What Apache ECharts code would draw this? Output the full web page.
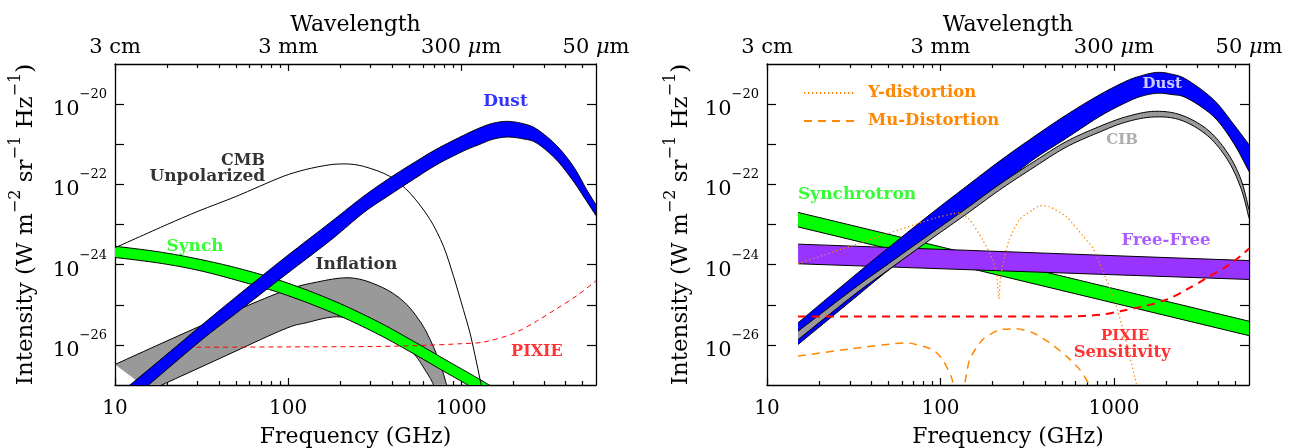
<!DOCTYPE html>
<html><head><meta charset="utf-8">
<script src="https://cdn.jsdelivr.net/npm/echarts@6/dist/echarts.min.js"></script>
<style>html,body{margin:0;padding:0;background:#fff}#c{width:1301px;height:448px}</style>
</head><body><div id="c"></div>
<script>
// ---------------- tick values / labels ----------------
const majorFreqTicks = [10, 100, 1000];
const minorFreqTicks = [20,30,40,50,60,70,80,90,200,300,400,500,600,700,800,900,2000,3000,4000,5000];
const wavelengthTickFreqs = [10, 100, 1000, 6000];
const wavelengthTickLabels = ['3 cm', '3 mm', '300 μm', '50 μm'];
const decadeTicks = [1e-26,1e-25,1e-24,1e-23,1e-22,1e-21,1e-20];
const intensityLabelTicks = [1e-26,1e-24,1e-22,1e-20];

// ---------------- left panel (GHz, W m^-2 sr^-1 Hz^-1) ----------------
const cmbUnpolarized = [[10,2.63e-24],[20,1.0e-23],[30.2,2.14e-23],[50.1,5.01e-23],[93.5,1.58e-22],[126,2.34e-22],[175,3.09e-22],[213,3.24e-22],[272,2.82e-22],[387,1.58e-22],[506,6.03e-23],[661,1.32e-23],[789,2.88e-24],[902,5.13e-25],[1028,7.59e-26],[1122,2.0e-26],[1227,3.55e-27],[1303,1.0e-27],[1349,5.0e-28]];
const pixieLeft = [[29.5,8.71e-27],[100,8.91e-27],[316,9.12e-27],[631,9.77e-27],[1000,1.07e-26],[1340,1.17e-26],[1995,1.91e-26],[2723,3.89e-26],[3548,7.94e-26],[4634,1.66e-25],[6000,3.98e-25]];
const dustLeftUpper = [[10,4.9e-28],[12.2,1.0e-27],[20,5.89e-27],[31.6,3.09e-26],[50.1,1.58e-25],[93.5,1.38e-24],[175,1.12e-23],[272,5.01e-23],[387,1.45e-22],[528,3.39e-22],[721,7.59e-22],[1028,1.66e-21],[1282,2.57e-21],[1514,3.31e-21],[1828,3.72e-21],[2239,3.31e-21],[2723,2.40e-21],[3548,9.33e-22],[4436,2.82e-22],[5297,7.41e-23],[6000,3.09e-23]];
const dustLeftLower = [[12.6,4.8e-28],[15.6,1.0e-27],[31.6,1.32e-26],[50.1,6.17e-26],[93.5,5.01e-25],[175,3.98e-24],[272,1.95e-23],[387,5.50e-23],[528,1.32e-22],[721,3.09e-22],[1028,6.76e-22],[1282,1.0e-21],[1514,1.32e-21],[1828,1.51e-21],[2239,1.38e-21],[2723,1.07e-21],[3548,4.07e-22],[4436,1.20e-22],[5297,3.80e-23],[6000,1.66e-23]];
const synchLeftUpper = [[10,2.88e-24],[17.8,2.09e-24],[30.2,1.38e-24],[52.5,7.94e-25],[93.5,3.80e-25],[178,1.32e-25],[316,4.17e-26],[501,1.41e-26],[794,4.47e-27],[1122,1.91e-27],[1514,8.91e-28],[1778,5.62e-28]];
const synchLeftLower = [[10,1.51e-24],[17.8,1.10e-24],[30.2,7.24e-25],[52.5,3.89e-25],[93.5,1.86e-25],[178,6.46e-26],[316,2.04e-26],[501,6.92e-27],[794,2.19e-27],[1122,9.33e-28],[1413,5.01e-28]];
const inflationUpper = [[10,3.24e-27],[20,1.26e-26],[39.8,4.68e-26],[91.2,2.09e-25],[141,3.55e-25],[228,4.68e-25],[339,2.88e-25],[462,1.23e-25],[577,3.89e-26],[661,1.35e-26],[753,3.55e-27],[824,1.0e-27],[871,5.01e-28]];
const inflationLower = [[15.8,7.41e-28],[18.6,1.0e-27],[40.7,4.68e-27],[93.5,2.40e-26],[127,3.55e-26],[191,5.01e-26],[272,3.55e-26],[388,1.66e-26],[525,6.31e-27],[625,2.19e-27],[692,1.0e-27],[724,5.01e-28]];

// ---------------- right panel ----------------
const synchRightUpper = [[15.1,2.0e-23],[6000,3.89e-26]];
const synchRightLower = [[15.1,8.71e-24],[6000,1.70e-26]];
const freeFreeUpper = [[15.1,3.24e-24],[6000,1.26e-24]];
const freeFreeLower = [[15.1,1.05e-24],[6000,4.27e-25]];
const dustRightUpper = [[15.1,3.55e-26],[31.6,5.13e-25],[50.1,2.63e-24],[91.2,2.09e-23],[141,8.91e-23],[219,3.80e-22],[341,1.48e-21],[531,5.37e-21],[832,1.74e-20],[1186,3.80e-20],[1445,5.13e-20],[1766,6.17e-20],[2138,5.62e-20],[2630,4.07e-20],[3750,1.29e-20],[4887,3.16e-21],[6000,9.77e-22]];
const dustRightLower = [[15.1,1.02e-26],[31.6,1.41e-25],[50.1,7.24e-25],[91.2,5.01e-24],[141,2.0e-23],[219,8.91e-23],[341,4.07e-22],[531,1.41e-21],[832,5.01e-21],[1186,1.12e-20],[1445,1.58e-20],[1766,1.86e-20],[2138,1.74e-20],[2630,1.41e-20],[3750,4.90e-21],[4887,1.07e-21],[6000,2.09e-22]];
const cibUpper = [[15.1,2.19e-26],[31.6,2.51e-25],[50.1,1.05e-24],[90.4,6.46e-24],[141,2.51e-23],[219,1.0e-22],[341,3.55e-22],[531,1.17e-21],[832,2.82e-21],[1186,4.90e-21],[1706,6.61e-21],[2432,5.37e-21],[3467,2.29e-21],[4519,6.03e-22],[5395,1.32e-22],[6000,2.34e-23]];
const cibLower = [[15.1,1.35e-26],[31.6,1.74e-25],[50.1,7.41e-25],[90.4,4.68e-24],[141,1.82e-23],[219,7.24e-23],[341,2.57e-22],[531,8.51e-22],[832,2.04e-21],[1186,3.63e-21],[1706,4.79e-21],[2432,3.98e-21],[3467,1.62e-21],[4519,4.07e-22],[5395,7.94e-23],[6000,1.45e-23]];
const pixieSensitivity = [[15.1,5.13e-26],[100,5.13e-26],[531,5.13e-26],[832,5.62e-26],[1084,6.92e-26],[1479,9.12e-26],[2018,1.35e-25],[2630,2.40e-25],[3436,4.68e-25],[4477,9.12e-25],[5346,1.62e-24],[6000,2.51e-24]];
const yDistortion = [[15.1,1.05e-24],[30.2,2.88e-24],[92.9,1.45e-23],[118,1.86e-23],[129,1.95e-23],[147,1.32e-23],[175,4.17e-24],[200,1.32e-24],[211,5.01e-25],[217,1.41e-25],[222,5.01e-25],[234,1.58e-24],[249,4.17e-24],[285,1.32e-23],[341,2.34e-23],[372,2.95e-23],[426,2.75e-23],[531,1.58e-23],[664,5.13e-24],[759,2.51e-24],[871,6.31e-25],[1000,1.41e-25],[1148,1.78e-26],[1318,1.58e-27],[1380,6.31e-28]];
const muDistortion = [[15.1,5.25e-27],[30.2,7.94e-27],[63.7,1.12e-26],[90.4,7.59e-27],[103,4.27e-27],[115,1.66e-27],[126,5.01e-28],[132,5.01e-28],[147,4.27e-27],[175,1.35e-26],[219,2.40e-26],[274,2.51e-26],[341,2.0e-26],[426,1.12e-26],[531,5.25e-27],[634,2.45e-27],[724,1.0e-27],[794,5.01e-28]];

// ---------------- annotations ----------------
const annotLeft = [
  {text:'CMB', freq:73.6, intensity:3.9e-22, color:'#000000', align:'right', size:16},
  {text:'Unpolarized', freq:73.6, intensity:1.58e-22, color:'#000000', align:'right', size:17},
  {text:'Synch', freq:29, intensity:2.8e-24, color:'#00ff00', align:'center', size:17},
  {text:'Inflation', freq:248, intensity:1.0e-24, color:'#000000', align:'center', size:17},
  {text:'Dust', freq:1800, intensity:1.15e-20, color:'#0000ff', align:'center', size:17},
  {text:'PIXIE', freq:2735, intensity:6.8e-27, color:'#ff0000', align:'center', size:16}
];
const annotRight = [
  {text:'Synchrotron', freq:15.1, intensity:5.5e-23, color:'#00ff00', align:'left', size:17},
  {text:'Free-Free', freq:1995, intensity:4.0e-24, color:'#9933ff', align:'center', size:16.5},
  {text:'Dust', freq:1897, intensity:3.2e-20, color:'#ffffff', align:'center', size:15},
  {text:'CIB', freq:1114, intensity:1.3e-21, color:'#999999', align:'center', size:15},
  {text:'PIXIE', freq:1159, intensity:1.7e-26, color:'#ff0000', align:'center', size:15},
  {text:'Sensitivity', freq:1114, intensity:6.5e-27, color:'#ff0000', align:'center', size:16.5}
];

// ---------------- chart ----------------
const FONT = "'DejaVu Serif', serif";
const grids = [
  {left:115, top:64, width:481, height:321, outerBoundsMode:'none', containLabel:false},
  {left:767, top:64, width:482, height:321, outerBoundsMode:'none', containLabel:false}
];
const yNameGaps = [77, 74];
const xAxes = [], yAxes = [];
grids.forEach((g, gi) => {
  const common = {type:'log', logBase:10, min:10, max:6000, gridIndex:gi, splitLine:{show:false}, axisPointer:{show:false}, nameMoveOverlap:false};
  xAxes.push(Object.assign({}, common, {
    position:'bottom',
    axisLine:{show:true, onZero:false, lineStyle:{color:'#000', width:1.3}},
    axisTick:{show:true, inside:true, length:7, customValues:majorFreqTicks, lineStyle:{color:'#000', width:1.2}},
    axisLabel:{show:true, customValues:majorFreqTicks, margin:12, color:'#000', fontFamily:FONT, fontSize:20, lineHeight:24,
      formatter:v => String(Math.round(v))},
    name:'Frequency (GHz)', nameLocation:'middle', nameGap:39,
    nameTextStyle:{fontFamily:FONT, fontSize:22, color:'#000', lineHeight:26}
  }));
  xAxes.push(Object.assign({}, common, {
    position:'bottom', axisLine:{show:false, onZero:false},
    axisTick:{show:true, inside:true, length:4, customValues:minorFreqTicks, lineStyle:{color:'#000', width:1.2}},
    axisLabel:{show:false}
  }));
  xAxes.push(Object.assign({}, common, {
    position:'top',
    axisLine:{show:true, onZero:false, lineStyle:{color:'#000', width:1.3}},
    axisTick:{show:true, inside:true, length:7, customValues:majorFreqTicks, lineStyle:{color:'#000', width:1.2}},
    axisLabel:{show:true, customValues:wavelengthTickFreqs, margin:4, color:'#000', fontFamily:FONT, fontSize:21, lineHeight:24,
      formatter:v => {
        const i = wavelengthTickFreqs.findIndex(f => Math.abs(Math.log10(f) - Math.log10(v)) < 0.01);
        return i < 0 ? '' : wavelengthTickLabels[i].replace('μ', '{i|μ}');
      },
      rich:{i:{fontFamily:FONT, fontSize:21, fontStyle:'italic', color:'#000', lineHeight:24}}},
    name:'Wavelength', nameLocation:'middle', nameGap:26,
    nameTextStyle:{fontFamily:FONT, fontSize:22, color:'#000', lineHeight:26}
  }));
  xAxes.push(Object.assign({}, common, {
    position:'top', axisLine:{show:false, onZero:false},
    axisTick:{show:true, inside:true, length:4, customValues:minorFreqTicks, lineStyle:{color:'#000', width:1.2}},
    axisLabel:{show:false}
  }));
  const ycommon = {type:'log', logBase:10, min:1e-27, max:1e-19, gridIndex:gi, splitLine:{show:false}, axisPointer:{show:false}, nameMoveOverlap:false};
  yAxes.push(Object.assign({}, ycommon, {
    position:'left',
    axisLine:{show:true, onZero:false, lineStyle:{color:'#000', width:1.3}},
    axisTick:{show:true, inside:true, length:9, customValues:decadeTicks, lineStyle:{color:'#000', width:1.2}},
    axisLabel:{show:true, customValues:intensityLabelTicks, margin:8, color:'#000',
      formatter:v => { const e = Math.round(Math.log10(v)); return '{b|10}{s|' + (e < 0 ? '\u2212' : '') + Math.abs(e) + '}'; },
      rich:{
        b:{fontFamily:FONT, fontSize:21, lineHeight:32, verticalAlign:'bottom', color:'#000'},
        s:{fontFamily:FONT, fontSize:13, lineHeight:14, verticalAlign:'top', color:'#000'}
      }},
    name:'{n|Intensity (W m}{s|\u22122}{n| sr}{s|\u22121}{n| Hz}{s|\u22121}{n|)}',
    nameLocation:'middle', nameGap:yNameGaps[gi],
    nameTextStyle:{fontFamily:FONT, fontSize:23, color:'#000',
      rich:{
        n:{fontFamily:FONT, fontSize:23, lineHeight:30, verticalAlign:'bottom', color:'#000'},
        s:{fontFamily:FONT, fontSize:16, lineHeight:16, verticalAlign:'top', color:'#000'}
      }}
  }));
  yAxes.push(Object.assign({}, ycommon, {
    position:'right',
    axisLine:{show:true, onZero:false, lineStyle:{color:'#000', width:1.3}},
    axisTick:{show:true, inside:true, length:9, customValues:decadeTicks, lineStyle:{color:'#000', width:1.2}},
    axisLabel:{show:false}
  }));
});

// smooth drawing of a polyline through the given pixel points (Catmull-Rom as cubic Bezier)
function smoothPts(pts, steps) {
  if (pts.length < 3) return pts;
  const out = [];
  for (let i = 0; i < pts.length - 1; i++) {
    const p0 = pts[Math.max(0, i - 1)], p1 = pts[i], p2 = pts[i + 1], p3 = pts[Math.min(pts.length - 1, i + 2)];
    const c1 = [p1[0] + (p2[0] - p0[0]) / 6, p1[1] + (p2[1] - p0[1]) / 6];
    const c2 = [p2[0] - (p3[0] - p1[0]) / 6, p2[1] - (p3[1] - p1[1]) / 6];
    for (let s = 0; s < steps; s++) {
      const t = s / steps, u = 1 - t;
      const a = u * u * u, b = 3 * u * u * t, c = 3 * u * t * t, d = t * t * t;
      out.push([a * p1[0] + b * c1[0] + c * c2[0] + d * p2[0], a * p1[1] + b * c1[1] + c * c2[1] + d * p2[1]]);
    }
  }
  out.push(pts[pts.length - 1]);
  return out;
}

function band(name, gi, upper, lower, fill, z) {
  return {
    type:'custom', name, xAxisIndex:4*gi, yAxisIndex:2*gi, z, clip:true, silent:true,
    data:[upper[0]],
    renderItem(params, api) {
      const up = smoothPts(upper.map(p => api.coord(p)), 10);
      const lo = smoothPts(lower.map(p => api.coord(p)), 10);
      return {type:'group', children:[
        {type:'polygon', shape:{points:up.concat(lo.slice().reverse())}, style:{fill:fill, stroke:'none'}},
        {type:'polyline', shape:{points:up}, style:{fill:'none', stroke:'#000', lineWidth:1}},
        {type:'polyline', shape:{points:lo}, style:{fill:'none', stroke:'#000', lineWidth:1}}
      ]};
    }
  };
}
function curve(name, gi, data, color, width, dash, z, smooth) {
  return {
    type:'line', name, xAxisIndex:4*gi, yAxisIndex:2*gi, z, data, symbol:'none', showSymbol:false,
    smooth:smooth, clip:true, silent:true,
    lineStyle:{color, width, type:dash}, itemStyle:{color}
  };
}
function labels(gi, list, z) {
  return {
    type:'scatter', xAxisIndex:4*gi, yAxisIndex:2*gi, z, symbolSize:0, silent:true,
    itemStyle:{color:'rgba(0,0,0,0)'},
    data:list.map(a => ({
      value:[a.freq, a.intensity],
      label:{show:true, formatter:a.text, position:[0,0], align:a.align, verticalAlign:'middle',
        color:a.color, fontFamily:FONT, fontWeight:'bold', fontSize:a.size}
    }))
  };
}

const series = [
  band('Inflation', 0, inflationUpper, inflationLower, '#999999', 1),
  band('Synch', 0, synchLeftUpper, synchLeftLower, '#00ff00', 2),
  curve('CMB Unpolarized', 0, cmbUnpolarized, '#000000', 1, 'solid', 3, 0.3),
  band('Dust', 0, dustLeftUpper, dustLeftLower, '#0000ff', 4),
  curve('PIXIE', 0, pixieLeft, '#ff0000', 1, [5,4], 5, 0.3),
  labels(0, annotLeft, 10),

  band('Synchrotron', 1, synchRightUpper, synchRightLower, '#00ff00', 1),
  band('Free-Free', 1, freeFreeUpper, freeFreeLower, '#9933ff', 2),
  band('Dust R', 1, dustRightUpper, dustRightLower, '#0000ff', 3),
  band('CIB', 1, cibUpper, cibLower, '#999999', 4),
  curve('PIXIE Sensitivity', 1, pixieSensitivity, '#ff0000', 2, [8,6], 5, 0.3),
  curve('Y-distortion', 1, yDistortion, '#ff8800', 1.3, [1.3,2.7], 6, 0.2),
  curve('Mu-Distortion', 1, muDistortion, '#ff8800', 1.5, [8,6], 6, 0.2),
  labels(1, annotRight, 10)
];

const chart = echarts.init(document.getElementById('c'), null, {renderer:'canvas'});
chart.setOption({
  animation:false,
  backgroundColor:'#ffffff',
  grid:grids,
  xAxis:xAxes,
  yAxis:yAxes,
  legend:{
    data:['Y-distortion','Mu-Distortion'], left:798, top:75, orient:'vertical',
    itemWidth:52, itemHeight:14, itemGap:2, selectedMode:false,
    itemStyle:{opacity:0},
    textStyle:{color:'#ff8800', fontFamily:FONT, fontWeight:'bold', fontSize:16.5, lineHeight:18, padding:[0,0,8,7]}
  },
  series
});
</script></body></html>
